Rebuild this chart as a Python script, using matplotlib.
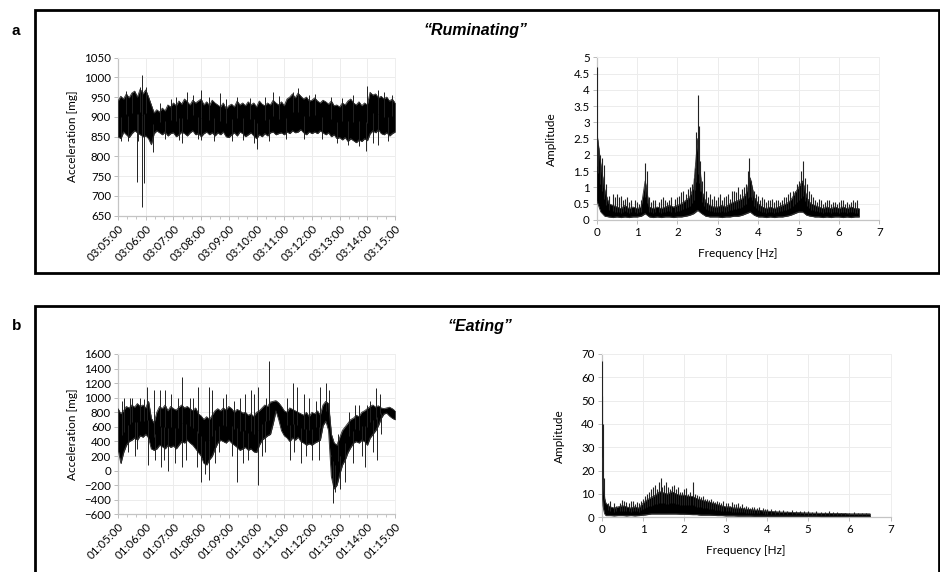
import numpy as np
import matplotlib.pyplot as plt
from matplotlib.patches import Rectangle

# ---- data ----
# (a) ruminating: acceleration band, sampled every 0.1 min after 03:05:00
rum_t = np.round(np.arange(0, 10.01, 0.1), 1)
rum_hi = [940,
          952, 945, 958, 948, 960, 965, 950, 970, 958, 968,
          950, 930, 910, 918, 912, 922, 915, 930, 925, 935,
          928, 940, 932, 945, 938, 930, 942, 935, 940, 945,
          930, 938, 928, 942, 935, 930, 925, 935, 920, 928,
          932, 925, 940, 930, 935, 928, 938, 930, 935, 925,
          940, 932, 928, 935, 930, 942, 935, 930, 938, 928,
          945, 950, 958, 948, 960, 952, 945, 950, 940, 942,
          948, 940, 935, 942, 938, 932, 940, 928, 930, 925,
          935, 930, 940, 945, 935, 930, 938, 928, 935, 930,
          962, 955, 958, 948, 952, 945, 950, 940, 945, 935]
rum_lo = [850,
          845, 862, 855, 848, 858, 865, 860, 855, 850, 852,
          845, 830, 858, 865, 860, 855, 862, 852, 858, 860,
          850, 855, 862, 858, 852, 860, 865, 855, 858, 850,
          858, 862, 855, 860, 852, 860, 855, 862, 850, 848,
          855, 860, 852, 862, 858, 850, 855, 860, 852, 845,
          855, 850, 858, 852, 860, 862, 855, 858, 860, 855,
          862, 858, 865, 860, 862, 868, 860, 855, 862, 858,
          862, 858, 865, 860, 855, 860, 850, 855, 845, 848,
          842, 848, 838, 845, 840, 835, 842, 838, 845, 840,
          858, 865, 860, 868, 858, 855, 860, 852, 858, 862]
rum_spk_t = [0.1, 0.3, 0.35, 0.5, 0.67, 0.72, 0.8, 0.88, 0.88, 0.95, 1.0, 1.26, 1.5,
             1.7, 1.9, 2.1, 2.2, 2.3, 2.5, 2.7, 2.9, 3.0, 3.0, 3.3, 3.45, 3.7, 3.9,
             4.1, 4.3, 4.5, 4.75, 4.9, 5.0, 5.3, 5.45, 5.6, 5.8, 6.05, 6.3, 6.5, 6.7,
             6.9, 7.1, 7.35, 7.7, 7.9, 8.1, 8.3, 8.5, 8.7, 8.95, 9.0, 9.2, 9.4, 9.4,
             9.6, 9.75, 9.9]
rum_spk_v = [838, 965, 840, 960, 736, 840, 975, 1006, 673, 732, 975, 812, 935,
             845, 945, 950, 842, 833, 963, 955, 845, 968, 841, 950, 840, 960, 945,
             838, 950, 842, 948, 835, 818, 950, 838, 962, 952, 843, 962, 972, 845,
             955, 958, 845, 950, 835, 948, 828, 955, 825, 814, 978, 835, 969, 829,
             962, 840, 955]

# (a) ruminating: spectrum, sampled every 0.1 Hz
rum_f = np.round(np.arange(0, 6.51, 0.1), 1)
rum_amp_hi = [2.7, 1.7, 0.9, 0.5, 0.45, 0.4, 0.35, 0.45, 0.35, 0.4,
              0.35, 0.4, 1.2, 0.4, 0.35, 0.4, 0.35, 0.4, 0.45, 0.4,
              0.45, 0.5, 0.6, 0.7, 1.0, 2.5, 0.9, 0.55, 0.45, 0.4,
              0.4, 0.45, 0.4, 0.5, 0.55, 0.6, 0.65, 0.8, 1.3, 0.7,
              0.5, 0.4, 0.35, 0.4, 0.35, 0.4, 0.45, 0.5, 0.6, 0.8,
              1.0, 1.2, 0.7, 0.5, 0.45, 0.4, 0.35, 0.4, 0.35, 0.4,
              0.35, 0.4, 0.35, 0.4, 0.35, 0.35]
rum_amp_lo = [0.6, 0.25, 0.12, 0.1, 0.08, 0.1, 0.08, 0.1, 0.08, 0.1,
              0.1, 0.12, 0.2, 0.1, 0.08, 0.1, 0.08, 0.1, 0.1, 0.08,
              0.1, 0.1, 0.12, 0.15, 0.2, 0.3, 0.2, 0.12, 0.1, 0.1,
              0.1, 0.08, 0.1, 0.1, 0.12, 0.12, 0.15, 0.2, 0.25, 0.15,
              0.1, 0.1, 0.08, 0.1, 0.08, 0.1, 0.1, 0.12, 0.15, 0.2,
              0.25, 0.25, 0.15, 0.12, 0.1, 0.1, 0.08, 0.1, 0.08, 0.1,
              0.1, 0.08, 0.1, 0.08, 0.1, 0.1]
rum_pk_f = [0.0, 0.03, 0.08, 0.12, 0.17, 0.22, 0.3, 0.4, 0.45, 0.5, 0.55, 0.6, 0.65,
            0.7, 0.75, 0.8, 0.85, 0.95, 1.0, 1.05, 1.1, 1.2, 1.24, 1.3, 1.35, 1.4,
            1.45, 1.55, 1.6, 1.65, 1.7, 1.75, 1.8, 1.85, 1.95, 2.0, 2.05, 2.1, 2.15,
            2.2, 2.25, 2.3, 2.35, 2.4, 2.44, 2.47, 2.5, 2.53, 2.56, 2.6, 2.66, 2.7,
            2.75, 2.8, 2.85, 2.9, 2.95, 3.0, 3.05, 3.1, 3.15, 3.2, 3.25, 3.3, 3.35,
            3.4, 3.45, 3.5, 3.55, 3.6, 3.65, 3.7, 3.76, 3.78, 3.82, 3.85, 3.9, 3.95,
            4.0, 4.05, 4.1, 4.15, 4.2, 4.25, 4.3, 4.35, 4.4, 4.45, 4.5, 4.55, 4.6,
            4.65, 4.7, 4.75, 4.8, 4.85, 4.9, 4.95, 5.0, 5.05, 5.1, 5.15, 5.2, 5.25,
            5.3, 5.35, 5.4, 5.45, 5.5, 5.55, 5.6, 5.65, 5.7, 5.75, 5.8, 5.85, 5.9,
            5.95, 6.0, 6.05, 6.1, 6.15, 6.2, 6.25, 6.3, 6.35, 6.4, 6.45]
rum_pk_a = [4.7, 2.3, 2.0, 1.9, 1.7, 1.1, 0.75, 0.8, 0.7, 0.8, 0.7, 0.75, 0.6,
            0.65, 0.7, 0.55, 0.6, 0.6, 0.55, 0.5, 0.6, 1.75, 1.5, 0.7, 0.55, 0.6,
            0.6, 0.55, 0.65, 0.7, 0.6, 0.55, 0.6, 0.7, 0.65, 0.7, 0.75, 0.85, 0.9,
            0.8, 0.95, 1.0, 1.1, 1.3, 1.6, 2.7, 3.85, 2.9, 1.8, 1.2, 1.5, 0.9,
            0.7, 0.8, 0.65, 0.75, 0.6, 0.7, 0.8, 0.6, 0.7, 0.75, 0.8, 0.65, 0.9,
            0.9, 0.85, 1.0, 0.8, 0.95, 1.0, 1.1, 1.5, 1.9, 1.2, 1.0, 0.9, 0.8,
            0.75, 0.6, 0.7, 0.65, 0.55, 0.6, 0.6, 0.65, 0.55, 0.6, 0.6, 0.55, 0.6,
            0.7, 0.7, 0.8, 0.85, 0.9, 0.9, 1.1, 1.2, 1.5, 1.8, 1.3, 1.1, 0.9,
            0.8, 0.7, 0.6, 0.55, 0.65, 0.6, 0.5, 0.55, 0.6, 0.6, 0.5, 0.55, 0.55,
            0.5, 0.55, 0.6, 0.6, 0.5, 0.55, 0.5, 0.55, 0.6, 0.55, 0.6]

# (b) eating: acceleration band, sampled every 0.1 min after 01:05:00
eat_t = np.round(np.arange(0, 10.01, 0.1), 1)
eat_hi = [850,
          780, 820, 880, 860, 900, 870, 920, 880, 900, 860,
          950, 720, 650, 800, 880, 850, 900, 820, 880, 850,
          830, 870, 900, 860, 880, 850, 820, 860, 780, 750,
          700, 740, 700, 760, 820, 850, 820, 860, 830, 880,
          850, 800, 840, 820, 790, 800, 760, 780, 740, 800,
          820, 860, 900, 880, 940, 950, 960, 930, 880, 820,
          800, 860, 840, 820, 800, 780, 760, 800, 740, 800,
          780, 820, 760, 900, 950, 920, 500, 380, 350, 450,
          550, 600, 650, 700, 720, 760, 740, 800, 820, 850,
          880, 900, 870, 890, 860, 850, 860, 870, 850, 820]
eat_lo = [300,
          100, 250, 350, 400, 420, 450, 420, 480, 460, 500,
          450, 300, 280, 300, 350, 330, 300, 350, 320, 340,
          300, 350, 400, 380, 420, 380, 350, 300, 250, 200,
          100, 80, 150, 200, 300, 380, 420, 400, 380, 420,
          380, 350, 320, 280, 300, 320, 280, 300, 260, 250,
          350, 420, 450, 480, 500, 650, 820, 700, 550, 480,
          450, 400, 450, 420, 460, 400, 380, 350, 370, 350,
          380, 400, 420, 620, 680, 550, -80, -250, -200, -50,
          80, 150, 250, 320, 380, 400, 380, 420, 400, 350,
          450, 500, 550, 620, 720, 780, 790, 750, 720, 700]
eat_spk_t = [0.15, 0.2, 0.35, 0.45, 0.5, 0.6, 0.7, 0.8, 0.95, 1.05, 1.1, 1.3, 1.35,
             1.5, 1.55, 1.65, 1.7, 1.8, 1.9, 2.05, 2.15, 2.3, 2.3, 2.45, 2.6, 2.7,
             2.85, 2.9, 3.0, 3.15, 3.3, 3.3, 3.4, 3.5, 3.65, 3.8, 3.9, 4.1, 4.2,
             4.3, 4.4, 4.5, 4.6, 4.7, 4.8, 4.9, 5.05, 5.05, 5.2, 5.3, 5.35, 5.45,
             6.1, 6.2, 6.3, 6.35, 6.45, 6.6, 6.7, 6.8, 6.9, 7.0, 7.15, 7.25, 7.3,
             7.5, 7.6, 7.7, 7.75, 7.85, 7.95, 8.0, 8.2, 8.35, 8.5, 8.55, 8.7, 8.8,
             8.9, 9.0, 9.1, 9.2, 9.3, 9.35, 9.45, 9.5]
eat_spk_v = [950, 1000, 250, 1000, 1000, 200, 300, 990, 980, 1150, 80, 1100, 150,
             1100, 50, 150, 1100, 0, 1050, 100, 1000, 1280, 50, 150, 1000, 1000,
             50, 1150, -150, -50, 1150, -130, 1100, 100, 250, 1000, 1050, 200, 950,
             -150, 1000, 100, 1050, 150, 1100, 1050, 1150, -200, 200, 250, 1000, 1500,
             1000, 150, 1200, 250, 1150, 100, 1050, 200, 1000, 150, 950, 150, 1150,
             1200, 1100, 200, -450, -300, 500, -250, -150, 800, 100, 900, 900, 200,
             50, 900, 950, 250, 1130, 150, 1050, 500]

# (b) eating: spectrum
eat_f = np.concatenate([[0, 0.01, 0.02, 0.03, 0.05, 0.07], np.round(np.arange(0.1, 6.51, 0.1), 1)])
eat_amp_hi = [50, 40, 25, 18, 12, 8,
              6, 4.5, 4, 4.5, 5, 4.5, 4, 4.5, 4,
              6, 7.5, 8.5, 9.5, 11, 10.5, 10, 11, 10, 9.5,
              9.5, 9, 9, 8, 7.5, 7, 6.5, 6, 5.5, 5,
              4.5, 4.5, 4, 4, 3.8, 3.5, 3.3, 3.2, 3, 2.8,
              2.7, 2.5, 2.4, 2.3, 2.2, 2.2, 2.1, 2, 2, 1.9,
              1.9, 1.8, 1.8, 1.7, 1.7, 1.7, 1.6, 1.6, 1.6, 1.6,
              1.5, 1.5, 1.5, 1.5, 1.5, 1.5]
eat_amp_lo = [20, 12, 8, 5, 3, 1.5,
              0.8, 0.8, 0.7, 0.8, 0.8, 0.7, 0.8, 0.7, 0.8,
              1, 1.2, 1.5, 1.5, 1.5, 1.5, 1.5, 1.5, 1.5, 1.4,
              1.4, 1.3, 1.2, 1.2, 1, 1, 1, 0.9, 0.8, 0.8,
              0.7, 0.7, 0.7, 0.6, 0.6, 0.6, 0.6, 0.5, 0.5, 0.5,
              0.5, 0.5, 0.5, 0.5, 0.5, 0.5, 0.5, 0.5, 0.5, 0.5,
              0.5, 0.5, 0.5, 0.4, 0.4, 0.4, 0.4, 0.4, 0.4, 0.4,
              0.4, 0.4, 0.4, 0.4, 0.4, 0.4]
eat_pk_f = [0, 0.01, 0.02, 0.05, 0.15, 0.2, 0.3, 0.35, 0.45, 0.5, 0.55, 0.6, 0.65,
            0.7, 0.75, 0.8, 0.85, 0.9, 0.95, 1.0, 1.05, 1.1, 1.15, 1.2, 1.25, 1.3,
            1.35, 1.38, 1.43, 1.45, 1.5, 1.55, 1.6, 1.65, 1.7, 1.75, 1.8, 1.85, 1.9,
            1.95, 2.0, 2.05, 2.1, 2.15, 2.2, 2.25, 2.3, 2.35, 2.4, 2.45, 2.5, 2.55,
            2.6, 2.65, 2.7, 2.75, 2.8, 2.85, 2.9, 2.95, 3.0, 3.05, 3.1, 3.15, 3.2,
            3.25, 3.3, 3.35, 3.4, 3.45, 3.5, 3.55, 3.6, 3.65, 3.7, 3.75, 3.8, 3.9,
            3.95, 4.0, 4.1, 4.2, 4.3, 4.4, 4.5, 4.6, 4.7, 4.8, 4.9, 5.0, 5.1, 5.2,
            5.3, 5.4, 5.5, 5.6, 5.7, 5.8, 5.9, 6.0, 6.1, 6.2, 6.3, 6.4]
eat_pk_a = [67, 52, 40, 17, 6, 7, 6, 5, 6, 7.5, 7, 6.5, 6, 7, 7, 5.5, 6.5, 6, 7,
            8, 9, 10, 11, 12, 13, 14, 12, 15, 17, 13, 14, 15, 13, 12, 13.5, 14,
            12, 13, 11, 11, 12, 12.5, 10, 11, 15, 10, 9.5, 9, 8.5, 9, 8, 8, 7.5,
            8, 7, 6.5, 7, 6.5, 6, 7, 6, 6, 5, 6.5, 5.5, 5.5, 6, 5, 5.5, 4.5, 5,
            4.5, 4, 4.5, 4.5, 4, 4.5, 4, 3.5, 3.5, 3.5, 3, 3, 3, 2.8, 3, 2.6, 2.8,
            2.5, 2.5, 2.2, 2.5, 2.3, 2.2, 2.5, 2.2, 2.1, 2, 2, 2, 2.1, 2, 2, 1.9]

rum_labels = ['03:05:00', '03:06:00', '03:07:00', '03:08:00', '03:09:00', '03:10:00',
              '03:11:00', '03:12:00', '03:13:00', '03:14:00', '03:15:00']
eat_labels = ['01:05:00', '01:06:00', '01:07:00', '01:08:00', '01:09:00', '01:10:00',
              '01:11:00', '01:12:00', '01:13:00', '01:14:00', '01:15:00']

# ---- figure ----
W, H = 940, 572
fig = plt.figure(figsize=(W / 100, H / 100), dpi=100)
TICKFONT = 'Lato'


def box(x0, y0, x1, y1):
    return fig.add_axes([x0 / W, 1 - y1 / H, (x1 - x0) / W, (y1 - y0) / H])


def style(ax):
    ax.grid(True, color='#ececec', lw=0.7)
    ax.set_axisbelow(True)
    for s in ['top', 'right']:
        ax.spines[s].set_color('#eeeeee')
        ax.spines[s].set_linewidth(0.7)
    for s in ['left', 'bottom']:
        ax.spines[s].set_color('#c4c4c4')
        ax.spines[s].set_linewidth(0.9)
    ax.tick_params(length=3, width=0.7, color='#bbbbbb', labelsize=8.3, pad=2)
    for lab in ax.get_xticklabels() + ax.get_yticklabels():
        lab.set_fontfamily(TICKFONT)


def band(ax, x, hi, lo, sx, sy, lw=0.7):
    x = np.asarray(x, float)
    hi = np.asarray(hi, float)
    lo = np.asarray(lo, float)
    ax.fill_between(x, lo, hi, color='black', lw=0.3, zorder=3)
    ax.plot(x, hi, color='#333333', lw=0.6, zorder=3)
    ax.plot(x, lo, color='#333333', lw=0.6, zorder=3)
    base = np.interp(sx, x, (hi + lo) / 2)
    ax.vlines(sx, base, sy, color='#222222', lw=lw, zorder=3)


# panel frames
fig.patches.append(Rectangle((35 / W, 1 - 273 / H), 904 / W, 263 / H, transform=fig.transFigure,
                             fill=False, lw=2, ec='black'))
fig.patches.append(Rectangle((35 / W, -0.05), 904 / W, 1 - 306 / H + 0.05, transform=fig.transFigure,
                             fill=False, lw=2, ec='black'))

fig.text(12 / W, 1 - 31 / H, 'a', fontsize=11, fontweight='bold', family='Liberation Sans', va='center')
fig.text(12 / W, 1 - 326 / H, 'b', fontsize=11, fontweight='bold', family='Liberation Sans', va='center')
fig.text(476 / W, 1 - 31 / H, '\u201cRuminating\u201d', fontsize=11.5, fontweight='bold', style='italic',
         family='Liberation Sans', ha='center', va='center')
fig.text(480 / W, 1 - 327 / H, '\u201cEating\u201d', fontsize=11.5, fontweight='bold', style='italic',
         family='Liberation Sans', ha='center', va='center')

# a - time series
ax1 = box(118, 57.5, 395, 215.7)
band(ax1, rum_t, rum_hi, rum_lo, rum_spk_t, rum_spk_v)
ax1.set_xlim(0, 10)
ax1.set_ylim(650, 1050)
ax1.set_yticks(np.arange(650, 1051, 50))
ax1.set_xticks(range(11))
ax1.set_xticklabels(rum_labels, rotation=45, ha='right', rotation_mode='anchor')
ax1.set_xticks(np.arange(0, 10, 1 / 3), minor=True)
ax1.tick_params(axis='x', which='minor', length=2, color='#bbbbbb')
ax1.set_ylabel('Acceleration [mg]', fontsize=8.5, family=TICKFONT, labelpad=4)
style(ax1)

# a - spectrum
ax2 = box(596.7, 57.3, 879.3, 220)
band(ax2, rum_f, rum_amp_hi, rum_amp_lo, rum_pk_f, rum_pk_a, lw=0.8)
ax2.set_xlim(0, 7)
ax2.set_ylim(0, 5)
ax2.set_yticks(np.arange(0, 5.01, 0.5))
ax2.set_yticklabels(['0', '0.5', '1', '1.5', '2', '2.5', '3', '3.5', '4', '4.5', '5'])
ax2.set_xticks(range(8))
ax2.set_ylabel('Amplitude', fontsize=8.5, family=TICKFONT, labelpad=12)
ax2.set_xlabel('Frequency [Hz]', fontsize=8.5, family=TICKFONT, labelpad=7)
style(ax2)

# b - time series
ax3 = box(118, 354, 395, 514.3)
band(ax3, eat_t, eat_hi, eat_lo, eat_spk_t, eat_spk_v)
ax3.set_xlim(0, 10)
ax3.set_ylim(-600, 1600)
ax3.set_yticks(np.arange(-600, 1601, 200))
ax3.set_xticks(range(11))
ax3.set_xticklabels(eat_labels, rotation=45, ha='right', rotation_mode='anchor')
ax3.set_xticks(np.arange(0, 10, 1 / 3), minor=True)
ax3.tick_params(axis='x', which='minor', length=2, color='#bbbbbb')
ax3.set_ylabel('Acceleration [mg]', fontsize=8.5, family=TICKFONT, labelpad=4)
style(ax3)

# b - spectrum
ax4 = box(601.7, 354, 890.7, 517.3)
band(ax4, eat_f, eat_amp_hi, eat_amp_lo, eat_pk_f, eat_pk_a, lw=0.8)
ax4.set_xlim(0, 7)
ax4.set_ylim(0, 70)
ax4.set_yticks(range(0, 71, 10))
ax4.set_xticks(range(8))
ax4.set_ylabel('Amplitude', fontsize=8.5, family=TICKFONT, labelpad=12)
ax4.set_xlabel('Frequency [Hz]', fontsize=8.5, family=TICKFONT, labelpad=7)
style(ax4)

fig.savefig('out.png', dpi=100)
